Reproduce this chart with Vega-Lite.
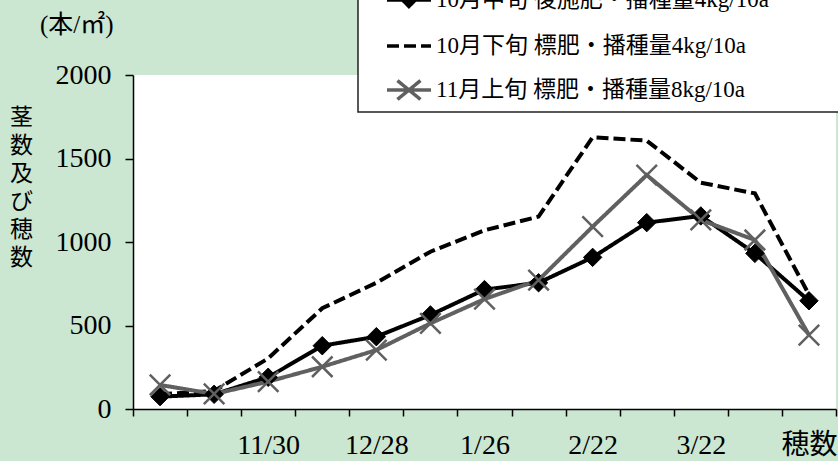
{
  "$schema": "https://vega.github.io/schema/vega-lite/v6.json",
  "autosize": "none",
  "width": 703,
  "height": 334,
  "padding": {"left": 133, "top": 75, "right": 2, "bottom": 52},
  "background": "#cbe6d1",
  "config": {
    "view": {"fill": "white", "stroke": null},
    "font": "Liberation Serif, Noto Sans CJK JP"
  },
  "title": {
    "text": "(本/㎡)",
    "anchor": "start",
    "frame": "group",
    "dx": -93,
    "dy": 65,
    "fontSize": 25,
    "fontWeight": "normal",
    "font": "Liberation Serif, Noto Sans CJK JP",
    "color": "black"
  },
  "data": {
    "values": [
      {"idx": 1, "series": "10月中旬 後施肥・播種量4kg/10a", "v": 74},
      {"idx": 2, "series": "10月中旬 後施肥・播種量4kg/10a", "v": 88},
      {"idx": 3, "series": "10月中旬 後施肥・播種量4kg/10a", "v": 190},
      {"idx": 4, "series": "10月中旬 後施肥・播種量4kg/10a", "v": 379},
      {"idx": 5, "series": "10月中旬 後施肥・播種量4kg/10a", "v": 433},
      {"idx": 6, "series": "10月中旬 後施肥・播種量4kg/10a", "v": 563},
      {"idx": 7, "series": "10月中旬 後施肥・播種量4kg/10a", "v": 715},
      {"idx": 8, "series": "10月中旬 後施肥・播種量4kg/10a", "v": 756},
      {"idx": 9, "series": "10月中旬 後施肥・播種量4kg/10a", "v": 908},
      {"idx": 10, "series": "10月中旬 後施肥・播種量4kg/10a", "v": 1116},
      {"idx": 11, "series": "10月中旬 後施肥・播種量4kg/10a", "v": 1156},
      {"idx": 12, "series": "10月中旬 後施肥・播種量4kg/10a", "v": 932},
      {"idx": 13, "series": "10月中旬 後施肥・播種量4kg/10a", "v": 648},
      {"idx": 1, "series": "10月下旬 標肥・播種量4kg/10a", "v": 88},
      {"idx": 2, "series": "10月下旬 標肥・播種量4kg/10a", "v": 108},
      {"idx": 3, "series": "10月下旬 標肥・播種量4kg/10a", "v": 303},
      {"idx": 4, "series": "10月下旬 標肥・播種量4kg/10a", "v": 603},
      {"idx": 5, "series": "10月下旬 標肥・播種量4kg/10a", "v": 756},
      {"idx": 6, "series": "10月下旬 標肥・播種量4kg/10a", "v": 942},
      {"idx": 7, "series": "10月下旬 標肥・播種量4kg/10a", "v": 1070},
      {"idx": 8, "series": "10月下旬 標肥・播種量4kg/10a", "v": 1152},
      {"idx": 9, "series": "10月下旬 標肥・播種量4kg/10a", "v": 1627},
      {"idx": 10, "series": "10月下旬 標肥・播種量4kg/10a", "v": 1607},
      {"idx": 11, "series": "10月下旬 標肥・播種量4kg/10a", "v": 1355},
      {"idx": 12, "series": "10月下旬 標肥・播種量4kg/10a", "v": 1291},
      {"idx": 13, "series": "10月下旬 標肥・播種量4kg/10a", "v": 685},
      {"idx": 1, "series": "11月上旬 標肥・播種量8kg/10a", "v": 144},
      {"idx": 2, "series": "11月上旬 標肥・播種量8kg/10a", "v": 90},
      {"idx": 3, "series": "11月上旬 標肥・播種量8kg/10a", "v": 164},
      {"idx": 4, "series": "11月上旬 標肥・播種量8kg/10a", "v": 253},
      {"idx": 5, "series": "11月上旬 標肥・播種量8kg/10a", "v": 353},
      {"idx": 6, "series": "11月上旬 標肥・播種量8kg/10a", "v": 513},
      {"idx": 7, "series": "11月上旬 標肥・播種量8kg/10a", "v": 658},
      {"idx": 8, "series": "11月上旬 標肥・播種量8kg/10a", "v": 772},
      {"idx": 9, "series": "11月上旬 標肥・播種量8kg/10a", "v": 1092},
      {"idx": 10, "series": "11月上旬 標肥・播種量8kg/10a", "v": 1401},
      {"idx": 11, "series": "11月上旬 標肥・播種量8kg/10a", "v": 1132},
      {"idx": 12, "series": "11月上旬 標肥・播種量8kg/10a", "v": 1012},
      {"idx": 13, "series": "11月上旬 標肥・播種量8kg/10a", "v": 443}
    ]
  },
  "encoding": {
    "x": {
      "field": "idx",
      "type": "ordinal",
      "scale": {"type": "band", "paddingInner": 0, "paddingOuter": 0},
      "axis": {
        "title": null,
        "labelAngle": 0,
        "tickBand": "extent",
        "labelExpr": "['','','11/30','','12/28','','1/26','','2/22','','3/22','','穂数'][datum.value - 1]",
        "labelFontSize": 28,
        "labelColor": "black",
        "labelPadding": 15,
        "tickSize": 7,
        "tickColor": "black",
        "tickWidth": 1.5,
        "domainColor": "black",
        "domainWidth": 1.5
      }
    },
    "y": {
      "field": "v",
      "type": "quantitative",
      "scale": {"domain": [0, 2000]},
      "axis": {
        "values": [0, 500, 1000, 1500, 2000],
        "format": "d",
        "grid": false,
        "title": ["茎", "数", "及", "び", "穂", "数"],
        "titleAngle": 0,
        "titleFont": "Noto Sans CJK JP",
        "titleFontSize": 23,
        "titleFontWeight": "normal",
        "titleLineHeight": 28,
        "titleColor": "black",
        "titleAlign": "center",
        "titleBaseline": "middle",
        "titleX": -112,
        "titleY": 42,
        "labelFontSize": 28,
        "labelColor": "black",
        "labelPadding": 14,
        "tickSize": 8,
        "tickColor": "black",
        "tickWidth": 1.5,
        "domainColor": "black",
        "domainWidth": 1.5
      }
    }
  },
  "layer": [
    {
      "mark": {"type": "line", "strokeWidth": 4},
      "encoding": {
        "color": {
          "field": "series",
          "type": "nominal",
          "scale": {
            "domain": ["10月中旬 後施肥・播種量4kg/10a", "10月下旬 標肥・播種量4kg/10a", "11月上旬 標肥・播種量8kg/10a"],
            "range": ["#000000", "#000000", "#606060"]
          },
          "legend": {
            "title": "　",
            "titleOrient": "right",
            "titlePadding": 66,
            "titleFontSize": 10,
            "orient": "none",
            "legendX": 225,
            "legendY": -97,
            "padding": 5,
            "fillColor": "white",
            "strokeColor": "#222222",
            "symbolSize": 900,
            "symbolStrokeWidth": 3.5,
            "rowPadding": 15,
            "labelOffset": 39,
            "labelFontSize": 23,
            "labelColor": "black",
            "labelLimit": 600,
            "encode": {
              "legend": {"update": {"strokeWidth": {"value": 1.5}}},
              "symbols": {
                "update": {
                  "shape": {"signal": "datum.value === '10月中旬 後施肥・播種量4kg/10a' ? 'M0.467,0H3.4M1.93,-0.43L2.36,0L1.93,0.43L1.5,0Z' : datum.value === '10月下旬 標肥・播種量4kg/10a' ? 'M0.467,0H3.4' : 'M0.467,0H3.4M1.16,-0.63L2.7,0.63M2.7,-0.63L1.16,0.63'"},
                  "fill": {"signal": "datum.value === '10月中旬 後施肥・播種量4kg/10a' ? 'black' : 'transparent'"}
                }
              }
            }
          }
        },
        "strokeDash": {
          "field": "series",
          "type": "nominal",
          "scale": {
            "domain": ["10月中旬 後施肥・播種量4kg/10a", "10月下旬 標肥・播種量4kg/10a", "11月上旬 標肥・播種量8kg/10a"],
            "range": [[1, 0], [12, 5], [1, 0]]
          },
          "legend": null
        },
        "order": {"field": "idx"}
      }
    },
    {
      "transform": [{"filter": "datum.series === '10月中旬 後施肥・播種量4kg/10a'"}],
      "mark": {"type": "point", "shape": "diamond", "filled": true, "size": 340, "color": "black", "opacity": 1, "stroke": "black", "strokeWidth": 1}
    },
    {
      "transform": [{"filter": "datum.series === '11月上旬 標肥・播種量8kg/10a'"}],
      "mark": {"type": "point", "shape": "M-1,-1L1,1M1,-1L-1,1", "filled": false, "size": 420, "color": "#606060", "opacity": 1, "strokeWidth": 2.5}
    }
  ]
}
